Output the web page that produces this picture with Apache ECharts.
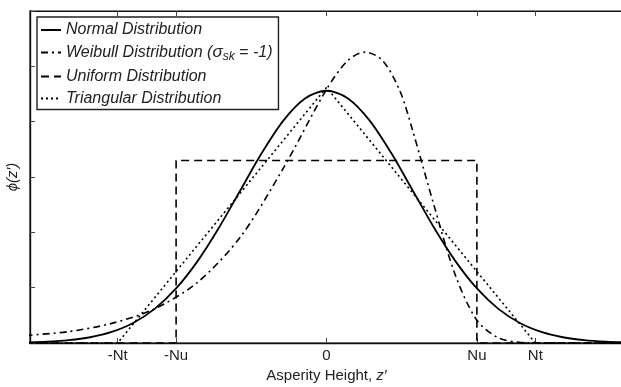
<!DOCTYPE html>
<html>
<head>
<meta charset="utf-8">
<script src="https://cdn.jsdelivr.net/npm/echarts@6/dist/echarts.min.js"></script>
<style>html,body{margin:0;padding:0;background:#fff;}#c{width:621px;height:387px;}</style>
</head>
<body>
<div id="c"></div>
<script>
// x positions (in standard deviations) and pdf values
const normalX = [-3.5,-3.25,-3,-2.75,-2.5,-2.25,-2,-1.75,-1.5,-1.25,-1,-0.75,-0.5,-0.25,0,0.25,0.5,0.75,1,1.25,1.5,1.75,2,2.25,2.5,2.75,3,3.25,3.5];
const normalY = [0.0009,0.0020,0.0044,0.0091,0.0175,0.0317,0.0540,0.0863,0.1295,0.1826,0.2420,0.3011,0.3521,0.3867,0.3989,0.3867,0.3521,0.3011,0.2420,0.1826,0.1295,0.0863,0.0540,0.0317,0.0175,0.0091,0.0044,0.0020,0.0009];

const weibullX = [-3.5,-3,-2.5,-2,-1.5,-1,-0.5,0,0.25,0.45,0.65,0.85,1,1.25,1.5,1.75,2,2.25,2.5,3,3.5];
const weibullY = [0.012,0.018,0.031,0.054,0.096,0.168,0.277,0.401,0.447,0.460,0.447,0.400,0.337,0.218,0.107,0.036,0.008,0.001,0,0,0];

const uniformX = [-3.5,-1.75,-1.75,1.75,1.75,3.5];
const uniformY = [0,0,0.2887,0.2887,0,0];

const triangX = [-3.5,-2.43,0,2.43,3.5];
const triangY = [0,0,0.404,0,0];

const tickValues = [-2.43,-1.75,0,1.75,2.43];
const tickLabels = ['-Nt','-Nu','0','Nu','Nt'];

const seriesNames = ['Normal Distribution','Weibull Distribution','Uniform Distribution','Triangular Distribution'];

const zip = (xs, ys) => xs.map((x, i) => [x, ys[i]]);

const chart = echarts.init(document.getElementById('c'), null, {renderer: 'canvas'});
const font = 'Liberation Sans, Arial, Helvetica, sans-serif';
const labelFmt = v => {
  const i = tickValues.findIndex(t => Math.abs(t - v) < 1e-6);
  return i >= 0 ? tickLabels[i] : '';
};
const lineBase = {type: 'line', showSymbol: false, symbol: 'none', animation: false, z: 3};

chart.setOption({
  backgroundColor: '#fff',
  animation: false,
  textStyle: {fontFamily: font},
  grid: {left: 30, right: -2, top: 11, bottom: 44, show: true, borderColor: '#111', borderWidth: 1.2,
    containLabel: false, outerBoundsMode: 'none'},
  legend: {
    orient: 'vertical', left: 37, top: 17,
    padding: [5, 6, 3, 3], itemGap: 6, itemWidth: 20, itemHeight: 14,
    borderColor: '#222', borderWidth: 1.4, backgroundColor: '#fff',
    data: seriesNames,
    itemStyle: {opacity: 0},
    textStyle: {fontFamily: font, fontSize: 16, fontStyle: 'italic', color: '#222',
      rich: {
        t: {fontFamily: font, fontSize: 16, fontStyle: 'italic', color: '#222'},
        s: {fontFamily: font, fontSize: 17, fontStyle: 'italic', color: '#222'},
        sub: {fontFamily: font, fontSize: 12, fontStyle: 'italic', color: '#222', padding: [8, 0, 0, 0]}
      }},
    formatter: n => n === 'Weibull Distribution' ? '{t|Weibull Distribution (}{s|σ}{sub|sk}{t| = -1)}' : n
  },
  xAxis: [{
    type: 'value', min: -3.45, max: 3.45, position: 'bottom',
    name: 'Asperity Height, {i|z′}', nameLocation: 'middle', nameGap: 21,
    nameTextStyle: {fontFamily: font, fontSize: 15, color: '#222',
      rich: {i: {fontFamily: font, fontSize: 15, fontStyle: 'italic', color: '#222'}}},
    axisLine: {show: true, onZero: false, lineStyle: {color: '#111', width: 1.4}},
    axisTick: {show: true, inside: true, length: 5, customValues: tickValues, lineStyle: {color: '#444'}},
    axisLabel: {show: true, customValues: tickValues, formatter: labelFmt, fontFamily: font, fontSize: 15, color: '#222', margin: 5},
    splitLine: {show: false}
  }, {
    type: 'value', min: -3.45, max: 3.45, position: 'top',
    axisLine: {show: true, onZero: false, lineStyle: {color: '#111', width: 1.2}},
    axisTick: {show: true, inside: true, length: 5, customValues: tickValues, lineStyle: {color: '#444'}},
    axisLabel: {show: false}, splitLine: {show: false}
  }],
  yAxis: [{
    type: 'value', min: 0, max: 0.525, interval: 0.0875, position: 'left',
    name: 'ϕ(z′)', nameLocation: 'middle', nameGap: 10, nameRotate: 90,
    nameTextStyle: {fontFamily: font, fontSize: 15, fontStyle: 'italic', color: '#222'},
    axisLine: {show: true, onZero: false, lineStyle: {color: '#111', width: 1.4}},
    axisTick: {show: true, inside: true, length: 5, lineStyle: {color: '#444'}},
    axisLabel: {show: false}, splitLine: {show: false}
  }],
  series: [
    Object.assign({}, lineBase, {name: seriesNames[0], data: zip(normalX, normalY), smooth: 0.3,
      lineStyle: {color: '#000', width: 1.8, type: 'solid'}, itemStyle: {color: '#000'}}),
    Object.assign({}, lineBase, {name: seriesNames[1], data: zip(weibullX, weibullY), smooth: 0.3,
      lineStyle: {color: '#000', width: 1.6, type: [7, 4, 2, 4]}, itemStyle: {color: '#000'}}),
    Object.assign({}, lineBase, {name: seriesNames[2], data: zip(uniformX, uniformY),
      lineStyle: {color: '#000', width: 1.6, type: [8, 5]}, itemStyle: {color: '#000'}}),
    Object.assign({}, lineBase, {name: seriesNames[3], data: zip(triangX, triangY),
      lineStyle: {color: '#000', width: 1.6, type: [2, 3]}, itemStyle: {color: '#000'}})
  ]
});
</script>
</body>
</html>
